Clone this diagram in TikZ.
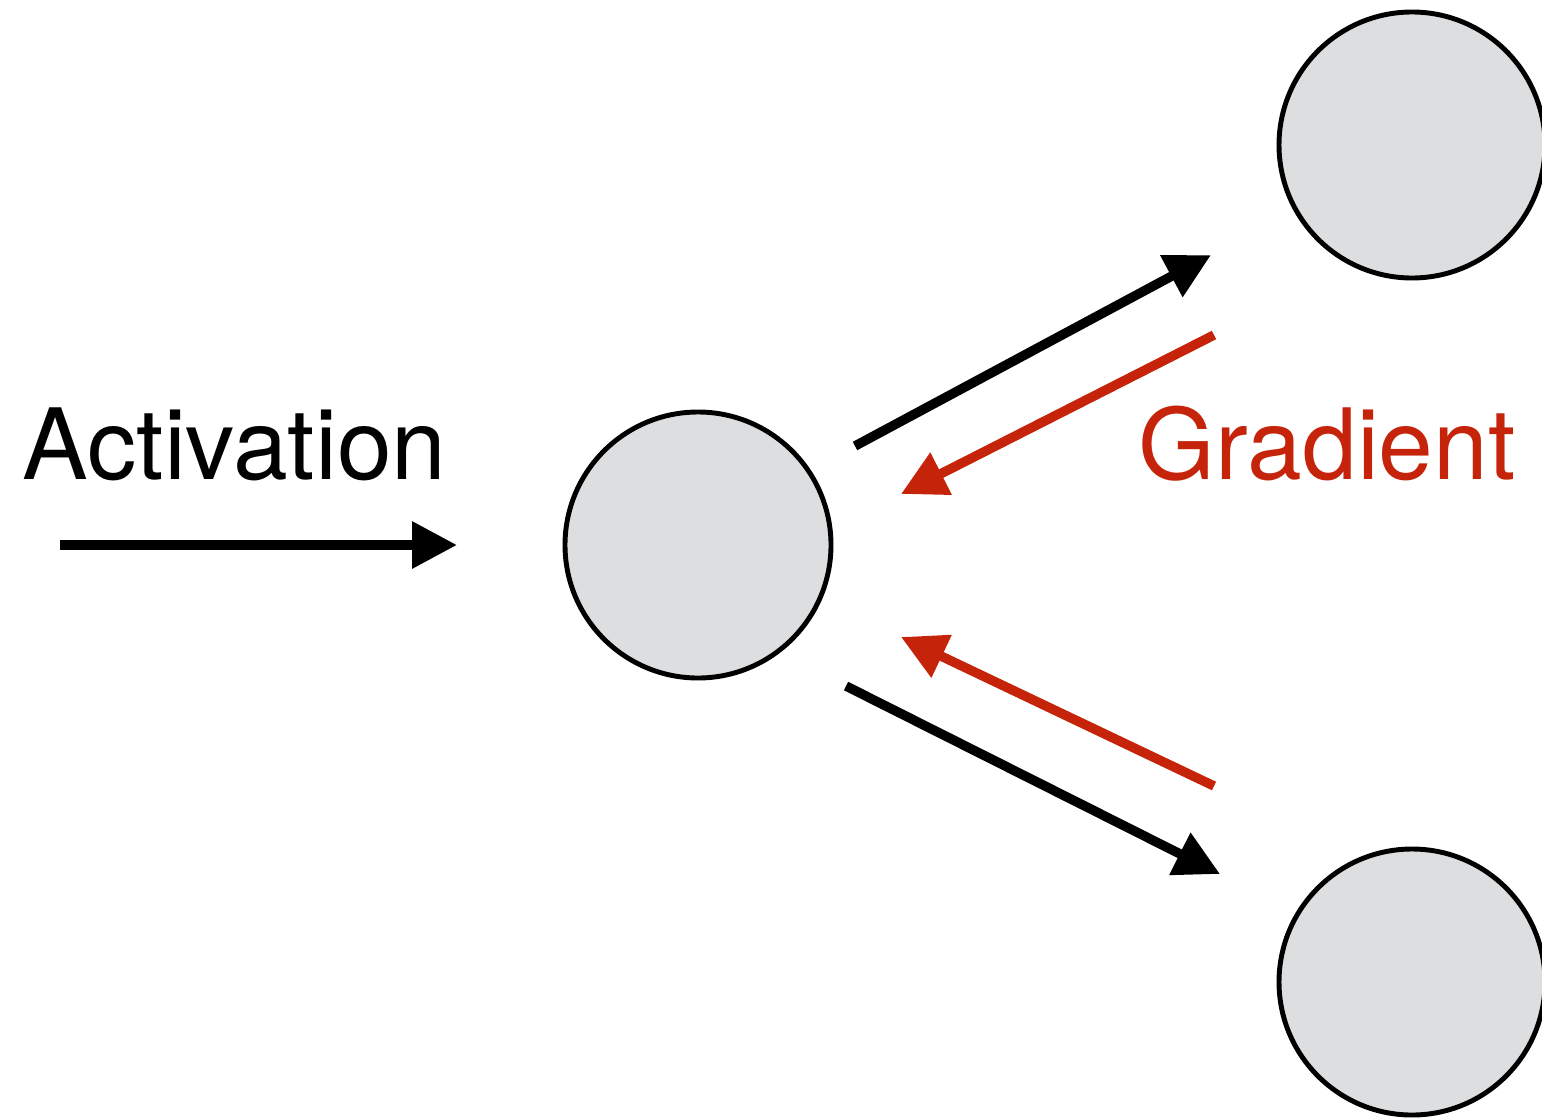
\documentclass[tikz,border=0pt]{standalone}
\usepackage{fontspec}
\setmainfont{TeX Gyre Heros}
\usepackage{tikz}
\usetikzlibrary{arrows.meta, positioning, calc}
\definecolor{gradred}{RGB}{198, 36, 10}
\definecolor{cellgray}{RGB}{221, 222, 224}

\begin{document}
\begin{tikzpicture}[
    neuron/.style={circle, draw=black, line width=1.4pt, fill=cellgray,
                   minimum size=2.66cm, inner sep=0pt},
    fwd/.style={-{Triangle[length=0.45cm, width=0.45cm]}, line width=0.095cm,
                color=black},
    bwd/.style={fwd, color=gradred},
    lbl/.style={font=\fontsize{28}{33}\selectfont, inner sep=0pt},
]
    \useasboundingbox (0,0) rectangle (15.42,-11.17);

    \node[neuron] (mid) at (6.98,-5.45) {};
    \node[neuron] (up) at (14.12,-1.45) {};
    \node[neuron] (down) at (14.12,-9.82) {};

    \coordinate (in0) at (0.60,-5.45);
    \coordinate (in1) at (4.57,-5.45);
    \coordinate (f1a) at (8.55,-4.46);
    \coordinate (f1b) at (12.11,-2.55);
    \coordinate (f2a) at (8.46,-6.86);
    \coordinate (f2b) at (12.20,-8.74);
    \coordinate (b1a) at (12.14,-3.35);
    \coordinate (b1b) at (9.01,-4.94);
    \coordinate (b2a) at (12.14,-7.86);
    \coordinate (b2b) at (9.01,-6.37);

    \draw[fwd] (in0) -- (in1);
    \draw[fwd] (f1a) -- (f1b);
    \draw[fwd] (f2a) -- (f2b);
    \draw[bwd] (b1a) -- (b1b);
    \draw[bwd] (b2a) -- (b2b);

    \node[lbl, anchor=base west] (act) at (0.22,-4.79) {Activation};
    \node[lbl, anchor=base west, text=gradred] (grad) at (11.38,-4.79) {Gradient};
\end{tikzpicture}
\end{document}
